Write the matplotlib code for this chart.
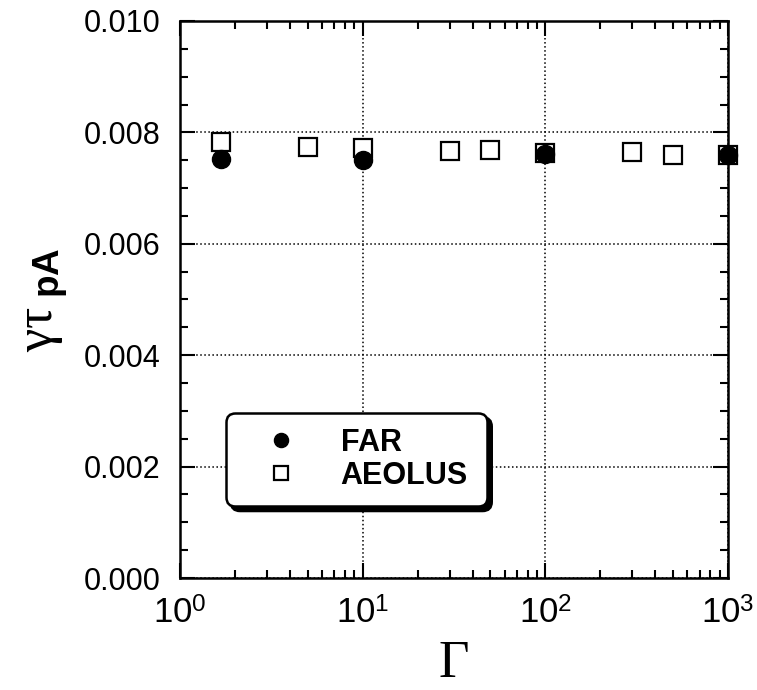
import matplotlib
matplotlib.use("Agg")
import matplotlib.pyplot as plt
from matplotlib.patches import Shadow
from matplotlib.ticker import LogLocator, MultipleLocator, FixedFormatter, FixedLocator

plt.rcParams['font.family'] = ['Liberation Sans', 'DejaVu Sans']
plt.rcParams['mathtext.fontset'] = 'custom'
plt.rcParams['mathtext.rm'] = 'Liberation Sans'
plt.rcParams['mathtext.it'] = 'Liberation Serif'
plt.rcParams['mathtext.bf'] = 'Liberation Sans:bold'

# data
far_gamma = [1.68, 10, 100, 1000]
far_val = [0.00752, 0.00751, 0.00762, 0.00760]

aeolus_gamma = [1.68, 5, 10, 30, 50, 100, 300, 500, 1000]
aeolus_val = [0.00783, 0.00774, 0.00772, 0.00767, 0.00768, 0.00763, 0.00765, 0.00760, 0.00760]

xtick_vals = [1, 10, 100, 1000]
xtick_labels = ['10$^0$', '10$^1$', '10$^2$', '10$^3$']

fig = plt.figure(figsize=(7.57, 6.90), dpi=100)
ax = fig.add_axes([0.2378, 0.1623, 0.7239, 0.8073])

ax.plot(aeolus_gamma, aeolus_val, 's', ms=13, mfc='white', mec='black', mew=1.6,
        label='AEOLUS', zorder=3, clip_on=False)
ax.plot(far_gamma, far_val, 'o', ms=13, mfc='black', mec='black',
        label='FAR', zorder=4, clip_on=False)

ax.set_xscale('log')
ax.set_xlim(1, 1000)
ax.set_ylim(0, 0.010)

ax.xaxis.set_major_locator(FixedLocator(xtick_vals))
ax.xaxis.set_major_formatter(FixedFormatter(xtick_labels))
ax.xaxis.set_minor_locator(LogLocator(base=10, subs=range(2, 10)))
ax.yaxis.set_major_locator(MultipleLocator(0.002))
ax.yaxis.set_minor_locator(MultipleLocator(0.0005))
ax.yaxis.set_major_formatter(matplotlib.ticker.FormatStrFormatter('%.3f'))

ax.tick_params(which='both', direction='in', top=True, right=True, width=1.5)
ax.tick_params(which='major', length=11, labelsize=22, pad=14)
ax.tick_params(which='minor', length=5.5)
ax.tick_params(axis='x', which='major', labelsize=25, pad=14)

for s in ax.spines.values():
    s.set_linewidth(1.8)

ax.grid(True, which='major', linestyle=':', color='black', linewidth=1.1)

ax.set_xlabel('Γ', family='Liberation Serif', fontsize=38, labelpad=7)
ax.set_ylabel(r'$\gamma\tau_{\ \mathbf{pA}}$', fontsize=38, labelpad=10)

# legend order: FAR first
h, l = ax.get_legend_handles_labels()
leg = ax.legend([h[1], h[0]], [l[1], l[0]], loc='lower left',
                bbox_to_anchor=(0.084, 0.129, 0.476, 0.168), mode='expand',
                borderaxespad=0, prop={'weight': 'bold', 'size': 22},
                markerscale=0.78, handletextpad=0.65, labelspacing=0.1,
                borderpad=0.5, handlelength=2.6, fancybox=True,
                shadow=False, framealpha=1, edgecolor='black')
leg.get_frame().set_linewidth(1.8)
leg.get_frame().set_boxstyle('round', pad=0, rounding_size=0.3)
leg.set_zorder(5)

fig.canvas.draw()
shadow = Shadow(leg.legendPatch, 3.5, -3.5, facecolor='black', edgecolor='black', alpha=1)
shadow.set_zorder(4.9)
ax.add_artist(shadow)

fig.savefig('out.png', dpi=100)
